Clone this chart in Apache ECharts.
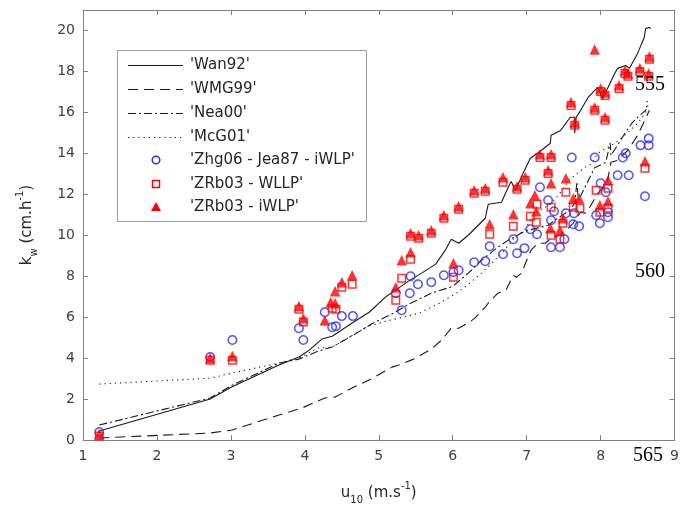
<!DOCTYPE html>
<html>
<head>
<meta charset="utf-8">
<script src="https://cdn.jsdelivr.net/npm/echarts@6/dist/echarts.min.js"></script>
<style>html,body{margin:0;padding:0;background:#fff;}#c{width:682px;height:512px;}</style>
</head>
<body>
<div id="c"></div>
<script>
// ---- data ----
const legendNames = ["'Wan92'", "'WMG99'", "'Nea00'", "'McG01'", "'Zhg06 - Jea87 - iWLP'", "'ZRb03 - WLLP'", "'ZRb03 - iWLP'"];
const xTicks = [1, 2, 3, 4, 5, 6, 7, 8, 9];
const yTicks = [0, 2, 4, 6, 8, 10, 12, 14, 16, 18, 20];

const wan92 = [[1.22,0.44],[2.72,2.00],[3.01,2.59],[3.65,3.66],[3.92,4.05],[4.06,4.39],[4.23,4.93],[4.37,5.07],[4.64,5.71],[4.87,6.24],[5.09,6.98],[5.23,7.32],[5.40,7.76],[5.58,8.15],[5.77,8.59],[5.90,9.27],[5.98,9.80],[6.08,9.61],[6.21,10.00],[6.44,10.83],[6.48,11.51],[6.66,11.61],[6.72,12.10],[6.79,12.63],[6.85,12.20],[6.95,13.02],[7.05,13.76],[7.20,14.15],[7.32,14.49],[7.33,14.88],[7.46,15.12],[7.59,15.76],[7.65,15.76],[7.65,14.98],[7.67,15.76],[7.73,16.10],[7.83,16.73],[7.96,17.22],[8.03,16.68],[8.10,17.22],[8.19,17.90],[8.23,18.15],[8.34,18.29],[8.39,18.15],[8.50,18.88],[8.59,19.66],[8.61,20.10],[8.66,20.15],[8.68,20.10]];
const wmg99 = [[1.22,0.10],[2.72,0.34],[3.02,0.49],[3.65,1.22],[3.96,1.56],[4.27,2.05],[4.41,2.10],[4.64,2.54],[4.87,2.93],[5.18,3.56],[5.27,3.66],[5.47,3.95],[5.71,4.44],[5.85,4.88],[5.98,5.46],[6.08,5.46],[6.21,5.71],[6.30,5.95],[6.44,6.49],[6.48,6.68],[6.61,7.17],[6.72,7.32],[6.82,8.05],[6.86,7.95],[6.93,8.15],[7.00,8.78],[7.06,9.27],[7.15,9.61],[7.25,9.61],[7.33,9.85],[7.45,10.00],[7.56,10.34],[7.63,10.59],[7.73,11.12],[7.79,11.07],[7.87,11.46],[7.96,12.05],[8.06,12.44],[8.10,12.78],[8.12,13.17],[8.14,13.56],[8.23,13.66],[8.37,14.15],[8.50,14.88],[8.61,15.71],[8.66,16.10]];
const nea00 = [[1.22,0.73],[2.72,2.05],[3.02,2.68],[3.65,3.75],[3.92,3.95],[4.18,4.34],[4.37,4.54],[4.70,5.22],[4.92,5.70],[5.20,6.20],[5.43,6.68],[5.71,7.17],[6.00,7.50],[6.21,8.15],[6.39,8.78],[6.61,9.41],[6.75,9.76],[6.98,10.20],[7.29,10.49],[7.42,10.83],[7.58,11.22],[7.65,11.56],[7.68,12.60],[7.70,11.70],[7.92,13.30],[8.07,13.56],[8.13,14.50],[8.14,13.90],[8.33,14.98],[8.42,15.46],[8.50,15.76],[8.61,16.10],[8.64,16.34]];
const mcg01 = [[1.22,2.73],[2.72,3.02],[3.02,3.27],[3.65,3.76],[3.92,4.00],[4.18,4.49],[4.37,4.54],[4.60,5.02],[4.83,5.51],[5.05,5.76],[5.27,5.95],[5.55,6.20],[5.82,6.68],[6.05,7.17],[6.16,7.46],[6.39,8.15],[6.53,8.63],[6.70,9.27],[6.84,9.90],[6.97,10.24],[7.11,11.07],[7.34,11.56],[7.48,12.20],[7.57,12.68],[7.65,12.93],[7.79,13.32],[7.88,13.50],[7.96,14.00],[8.19,14.49],[8.36,14.98],[8.50,15.46],[8.61,16.00],[8.64,16.73]];
const zhg06 = [[1.22,0.39],[2.72,4.05],[3.02,4.88],[3.92,5.46],[3.98,4.88],[4.27,6.24],[4.37,5.51],[4.42,5.56],[4.50,6.05],[4.65,6.05],[5.23,7.17],[5.31,6.34],[5.43,8.00],[5.42,7.17],[5.53,7.61],[5.71,7.71],[5.88,8.05],[6.01,8.20],[6.08,8.29],[6.29,8.68],[6.44,8.73],[6.50,9.46],[6.68,9.07],[6.82,9.80],[6.87,9.12],[6.97,9.37],[7.05,10.29],[7.14,10.05],[7.18,12.34],[7.29,11.71],[7.33,10.73],[7.37,11.17],[7.33,9.41],[7.45,9.41],[7.51,9.80],[7.53,11.07],[7.64,11.07],[7.63,10.54],[7.71,10.44],[7.61,13.80],[7.92,13.80],[7.94,10.98],[7.99,10.59],[8.00,12.54],[8.10,11.12],[8.10,10.88],[8.07,12.10],[8.23,12.93],[8.38,12.93],[8.30,13.80],[8.34,14.00],[8.54,14.39],[8.65,14.73],[8.65,14.39],[8.60,11.90]];
const zrbWLLP = [[1.22,0.20],[2.72,3.90],[3.02,3.90],[3.92,6.39],[3.98,5.76],[4.37,6.44],[4.42,6.39],[4.50,7.46],[4.64,7.61],[5.23,6.83],[5.31,7.90],[5.43,8.83],[5.43,9.95],[5.54,9.85],[5.71,10.10],[5.88,10.83],[6.01,7.95],[6.08,11.27],[6.29,12.05],[6.44,12.15],[6.50,10.05],[6.68,12.59],[6.82,10.44],[6.87,12.24],[6.98,12.68],[7.05,10.93],[7.13,10.63],[7.14,11.51],[7.18,13.80],[7.29,13.02],[7.33,13.80],[7.33,11.37],[7.33,10.00],[7.45,9.80],[7.49,10.59],[7.53,12.10],[7.60,16.34],[7.63,11.37],[7.65,15.37],[7.72,11.32],[7.92,16.10],[7.94,12.20],[7.99,11.12],[8.00,17.02],[8.06,15.61],[8.06,16.83],[8.10,12.29],[8.10,11.32],[8.25,17.17],[8.33,17.90],[8.37,17.76],[8.53,18.00],[8.60,13.27],[8.65,17.76],[8.66,18.59]];
const zrbIWLP = [[1.22,0.29],[2.72,4.00],[3.02,4.10],[3.92,6.54],[3.98,5.95],[4.27,5.85],[4.35,6.73],[4.41,6.68],[4.41,7.27],[4.50,7.71],[4.64,8.05],[5.23,7.46],[5.31,8.78],[5.43,9.17],[5.43,10.10],[5.54,10.00],[5.71,10.24],[5.88,10.98],[6.01,8.63],[6.08,11.41],[6.29,12.20],[6.44,12.29],[6.50,10.54],[6.68,12.83],[6.82,11.02],[6.87,12.39],[6.98,12.83],[7.05,11.56],[7.11,11.95],[7.13,11.17],[7.18,13.95],[7.29,13.17],[7.32,10.34],[7.33,13.95],[7.33,12.54],[7.45,10.24],[7.49,10.83],[7.53,12.78],[7.60,16.49],[7.63,11.80],[7.65,15.51],[7.71,11.80],[7.92,19.07],[7.92,16.24],[7.99,11.46],[8.00,17.17],[8.06,15.76],[8.06,16.98],[8.10,12.68],[8.10,11.66],[8.25,17.32],[8.33,18.05],[8.37,17.90],[8.53,18.15],[8.60,13.61],[8.65,17.90],[8.66,18.73]];
const lineNumbers = ['555', '560', '565'];

// ---- styles ----
const FONT = 'DejaVu Sans, Liberation Sans, Arial, sans-serif';
const AX = '#808080';
const LBL = '#404040';
const TXT = '#262626';
const BLUE = '#2a2aff';
const RED = '#ff0000';
const LINE = '#1a1a1a';
const dashes = { solid: 'solid', dashed: [10, 6], dashdot: [8, 3, 2, 3], dotted: [1.2, 4] };

const chart = echarts.init(document.getElementById('c'), null, { renderer: 'canvas' });

function nameRich() {
  return {
    a: { fontSize: 15, color: TXT, fontFamily: FONT, lineHeight: 24, verticalAlign: 'middle' },
    s: { fontSize: 10, color: TXT, fontFamily: FONT, lineHeight: 12, verticalAlign: 'bottom' },
    p: { fontSize: 10, color: TXT, fontFamily: FONT, lineHeight: 12, verticalAlign: 'top' }
  };
}

const baseTick = { show: true, inside: true, length: 5, lineStyle: { color: AX, width: 1 } };
const baseLine = { show: true, onZero: false, lineStyle: { color: AX, width: 1 } };

function lineSeries(name, data, type) {
  return { name, type: 'line', data, symbol: 'none', showSymbol: false, smooth: false,
    lineStyle: { color: LINE, width: 1.1, type }, z: 2, silent: true };
}

// legend built from graphic elements (MATLAB-like legend box)
const LX = 117, LY = 50, LW = 249, LH = 171;
const rowY = [65, 89, 113, 137, 160, 184, 207];
const legendStyles = [dashes.solid, dashes.dashed, dashes.dashdot, dashes.dotted];
const graphics = [
  { type: 'rect', shape: { x: LX + 0.5, y: LY + 0.5, width: LW, height: LH }, style: { fill: '#fff', stroke: '#9a9a9a', lineWidth: 1 }, z: 10 }
];
legendStyles.forEach((t, i) => {
  graphics.push({ type: 'line', shape: { x1: 128, y1: rowY[i] + 0.5, x2: 183, y2: rowY[i] + 0.5 },
    style: { stroke: LINE, lineWidth: 1.1, lineDash: t === 'solid' ? null : t }, z: 11 });
});
graphics.push({ type: 'circle', shape: { cx: 156, cy: rowY[4], r: 3.8 }, style: { fill: 'none', stroke: BLUE, lineWidth: 1.5 }, z: 11 });
graphics.push({ type: 'rect', shape: { x: 152.5, y: rowY[5] - 3.5, width: 7, height: 7 }, style: { fill: 'none', stroke: RED, lineWidth: 1.5 }, z: 11 });
graphics.push({ type: 'polygon', shape: { points: [[156, rowY[6] - 5], [151, rowY[6] + 4], [161, rowY[6] + 4]] }, style: { fill: RED }, z: 11 });
legendNames.forEach((n, i) => {
  graphics.push({ type: 'text', x: 190, y: rowY[i], style: { text: n, fill: TXT, font: '15px ' + FONT, textVerticalAlign: 'middle', textAlign: 'left' }, z: 11 });
});
// line-number marks printed on the figure
const lnPos = [[635, 85], [635, 272], [633, 456]];
lineNumbers.forEach((t, i) => {
  graphics.push({ type: 'text', x: lnPos[i][0], y: lnPos[i][1], style: { text: t, fill: '#000', font: '20px Liberation Serif, Times New Roman, serif', textVerticalAlign: 'middle', textAlign: 'left' }, z: 12 });
});

const option = {
  animation: false,
  backgroundColor: '#fff',
  grid: { left: 83, right: 6, top: 10, bottom: 72, containLabel: false },
  xAxis: [
    { type: 'value', min: xTicks[0], max: xTicks[xTicks.length - 1], interval: 1, position: 'bottom',
      axisLine: baseLine, axisTick: baseTick, splitLine: { show: false },
      axisLabel: { color: LBL, fontSize: 14, fontFamily: FONT, margin: 9 },
      name: '{a|u}{s|10}{a| (m.s}{p|-1}{a|)}', nameLocation: 'middle', nameGap: 41,
      nameTextStyle: { rich: nameRich() } },
    { type: 'value', min: xTicks[0], max: xTicks[xTicks.length - 1], interval: 1, position: 'top',
      axisLine: baseLine, axisTick: baseTick, splitLine: { show: false }, axisLabel: { show: false } }
  ],
  yAxis: [
    { type: 'value', min: yTicks[0], max: 21, interval: 2, position: 'left',
      axisLine: baseLine, axisTick: baseTick, splitLine: { show: false },
      axisLabel: { color: LBL, fontSize: 14, fontFamily: FONT, margin: 8, showMaxLabel: false,
        formatter: v => (yTicks.indexOf(v) >= 0 ? String(v) : '') },
      name: '{a|k}{s|w}{a| (cm.h}{p|-1}{a|)}', nameLocation: 'middle', nameGap: 44,
      nameTextStyle: { rich: nameRich() } },
    { type: 'value', min: yTicks[0], max: 21, interval: 2, position: 'right',
      axisLine: baseLine, axisTick: baseTick, splitLine: { show: false }, axisLabel: { show: false } }
  ],
  series: [
    lineSeries(legendNames[0], wan92, dashes.solid),
    lineSeries(legendNames[1], wmg99, dashes.dashed),
    lineSeries(legendNames[2], nea00, dashes.dashdot),
    lineSeries(legendNames[3], mcg01, dashes.dotted),
    { name: legendNames[4], type: 'scatter', data: zhg06, symbol: 'circle', symbolSize: 8.5, z: 3, silent: true,
      itemStyle: { color: 'rgba(0,0,0,0)', borderColor: BLUE, borderWidth: 1.5 } },
    { name: legendNames[5], type: 'scatter', data: zrbWLLP, symbol: 'rect', symbolSize: 7.5, z: 4, silent: true,
      itemStyle: { color: 'rgba(0,0,0,0)', borderColor: RED, borderWidth: 1.5 } },
    { name: legendNames[6], type: 'scatter', data: zrbIWLP, symbol: 'triangle', symbolSize: 10.5, z: 5, silent: true,
      itemStyle: { color: RED } }
  ],
  graphic: graphics
};
chart.setOption(option);
</script>
</body>
</html>
